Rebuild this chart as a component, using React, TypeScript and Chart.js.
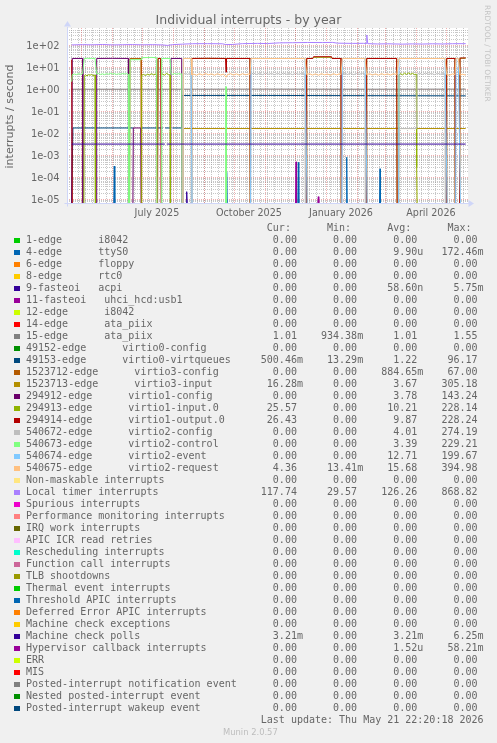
import React, { useEffect, useRef } from 'react';
import { Chart, registerables } from 'chart.js';

Chart.register(...registerables);

type Pt = [number, number | null];

const WIDTH = 497;
const HEIGHT = 743;
const CANVAS_HEIGHT = 225;

// x axis = days since graph start (last update minus 400 days)
const START_MS = Date.UTC(2025, 3, 16, 22, 20, 18);
const DAY_MS = 86400000;
const X_MIN = 0;
const X_MAX = 400;
const Y_MIN = 6.38e-6;
const Y_MAX = 518;

const yTickValues = [1e-5, 1e-4, 1e-3, 1e-2, 1e-1, 1, 10, 100];
const yTickLabels = ['1e-05', '1e-04', '1e-03', '1e-02', '1e-01', '1e+00', '1e+01', '1e+02'];
const xTickLabels = ['July 2025', 'October 2025', 'January 2026', 'April 2026'];
const xTickMonths: [number, number][] = [[2025, 6], [2025, 9], [2026, 0], [2026, 3]];
const X_LABEL_OFFSET_DAYS = 14.4;
const gridMonths: [number, number][] = [
  [2025, 4], [2025, 5], [2025, 6], [2025, 7], [2025, 8], [2025, 9], [2025, 10],
  [2025, 11], [2026, 0], [2026, 1], [2026, 2], [2026, 3], [2026, 4],
];
const firstGridMonday: [number, number, number] = [2025, 3, 21];

const TITLE = 'Individual interrupts - by year';
const Y_TITLE = 'interrupts / second';
const WATERMARK = 'RRDTOOL / TOBI OETIKER';
const FOOTER = 'Munin 2.0.57';
const LAST_UPDATE = 'Last update: Thu May 21 22:20:18 2026';

const PALETTE = ['#00CC00', '#0066B3', '#FF8000', '#FFCC00', '#330099', '#990099', '#CCFF00', '#FF0000',
  '#808080', '#008F00', '#00487D', '#B35A00', '#B38F00', '#6B006B', '#8FB300', '#B30000', '#BEBEBE',
  '#80FF80', '#80C9FF', '#FFC080', '#FFE680', '#AA80FF', '#EE00CC', '#FF8080', '#666600', '#FFBFFF',
  '#00FFCC', '#CC6699', '#999900'];

const seriesLabels = [
  '1-edge      i8042',
  '4-edge      ttyS0',
  '6-edge      floppy',
  '8-edge      rtc0',
  '9-fasteoi   acpi',
  '11-fasteoi   uhci_hcd:usb1',
  '12-edge      i8042',
  '14-edge      ata_piix',
  '15-edge      ata_piix',
  '49152-edge      virtio0-config',
  '49153-edge      virtio0-virtqueues',
  '1523712-edge      virtio3-config',
  '1523713-edge      virtio3-input',
  '294912-edge      virtio1-config',
  '294913-edge      virtio1-input.0',
  '294914-edge      virtio1-output.0',
  '540672-edge      virtio2-config',
  '540673-edge      virtio2-control',
  '540674-edge      virtio2-event',
  '540675-edge      virtio2-request',
  'Non-maskable interrupts',
  'Local timer interrupts',
  'Spurious interrupts',
  'Performance monitoring interrupts',
  'IRQ work interrupts',
  'APIC ICR read retries',
  'Rescheduling interrupts',
  'Function call interrupts',
  'TLB shootdowns',
  'Thermal event interrupts',
  'Threshold APIC interrupts',
  'Deferred Error APIC interrupts',
  'Machine check exceptions',
  'Machine check polls',
  'Hypervisor callback interrupts',
  'ERR',
  'MIS',
  'Posted-interrupt notification event',
  'Nested posted-interrupt event',
  'Posted-interrupt wakeup event',
];

const curVals = ['0.00', '0.00', '0.00', '0.00', '0.00', '0.00', '0.00', '0.00', '1.01', '0.00', '500.46m', '0.00',
  '16.28m', '0.00', '25.57', '26.43', '0.00', '0.00', '0.00', '4.36', '0.00', '117.74', '0.00', '0.00', '0.00',
  '0.00', '0.00', '0.00', '0.00', '0.00', '0.00', '0.00', '0.00', '3.21m', '0.00', '0.00', '0.00', '0.00', '0.00', '0.00'];
const minVals = ['0.00', '0.00', '0.00', '0.00', '0.00', '0.00', '0.00', '0.00', '934.38m', '0.00', '13.29m', '0.00',
  '0.00', '0.00', '0.00', '0.00', '0.00', '0.00', '0.00', '13.41m', '0.00', '29.57', '0.00', '0.00', '0.00',
  '0.00', '0.00', '0.00', '0.00', '0.00', '0.00', '0.00', '0.00', '0.00', '0.00', '0.00', '0.00', '0.00', '0.00', '0.00'];
const avgVals = ['0.00', '9.90u', '0.00', '0.00', '58.60n', '0.00', '0.00', '0.00', '1.01', '0.00', '1.22', '884.65m',
  '3.67', '3.78', '10.21', '9.87', '4.01', '3.39', '12.71', '15.68', '0.00', '126.26', '0.00', '0.00', '0.00',
  '0.00', '0.00', '0.00', '0.00', '0.00', '0.00', '0.00', '0.00', '3.21m', '1.52u', '0.00', '0.00', '0.00', '0.00', '0.00'];
const maxVals = ['0.00', '172.46m', '0.00', '0.00', '5.75m', '0.00', '0.00', '0.00', '1.55', '0.00', '96.17', '67.00',
  '305.18', '143.24', '228.14', '228.24', '274.19', '229.21', '199.67', '394.98', '0.00', '868.82', '0.00', '0.00',
  '0.00', '0.00', '0.00', '0.00', '0.00', '0.00', '0.00', '0.00', '0.00', '6.25m', '58.21m', '0.00', '0.00', '0.00',
  '0.00', '0.00'];

// ---- series values: [day, value]  (null = unknown / gap) ----
const zeroPts: Pt[] = [[4.2, 0], [398.2, 0]];

const ttyS0Pts: Pt[] = [[4.2, 0], [46.3, 0], [46.8, 3.2e-4], [47.3, 0], [158.7, 0], [159.2, 1.7e-4], [159.7, 0],
  [230.3, 0], [230.8, 4.7e-4], [231.3, 0], [278.7, 0], [279.2, 8e-4], [279.7, 0], [312, 0], [312.5, 2.4e-4],
  [313, 0], [398.2, 0]];

const acpiPts: Pt[] = [[4.2, 0], [118.7, 0], [119.2, 2.2e-5], [119.7, 0], [398.2, 0]];

const ataPiix15Pts: Pt[] = [[4.2, 1.0], [100, 1.0], [200, 1.01], [300, 1.0], [398.2, 1.01]];

const virtqueuesPts: Pt[] = [[4.2, 0], [5.4, 0.0173], [65.8, 0.0173], [66, null], [73.5, 0.0173], [95.2, 0.0173],
  [95.4, null], [97.6, 0.0173], [103.4, 0.0173], [103.6, null], [104.9, 0.0173], [114.2, 0.0173], [114.5, 0.52],
  [200, 0.52], [300, 0.51], [398.2, 0.5]];

const virtio3ConfigPts: Pt[] = [[4.2, 0], [62.1, 0], [62.5, 25], [73.5, 25], [73.9, 0], [398.2, 0]];

const virtio3InputPts: Pt[] = [[4.2, 0], [115.4, 0], [115.8, 0.0163], [398.2, 0.0163]];

const virtio1ConfigPts: Pt[] = [[4.2, 0], [4.8, 25], [15, 25], [15.4, 0], [28.8, 0], [29.2, 25], [45, 25.3],
  [60.8, 25], [61.2, 0], [65.4, 0], [65.8, 0.0173], [73.3, 0.0173], [73.7, 0], [103.1, 0], [103.5, 25],
  [114.2, 25], [114.6, 0], [398.2, 0]];

const virtio1InputPts: Pt[] = [[4.2, 0], [16.4, 0], [16.8, 4.2], [18, 4.5], [19.5, 4.0], [21, 4.6], [22.5, 4.3],
  [24, 4.7], [25.5, 4.2], [27.5, 4.4], [27.9, 0], [73.8, 0], [74.2, 4.3], [76, 4.7], [78, 4.2], [80, 4.8],
  [82, 4.4], [84, 5.1], [86, 4.5], [88, 4.9], [89.2, 4.4], [89.8, 0], [90.5, 25], [93.2, 25], [93.8, 4.5],
  [95, 4.9], [97, 4.3], [99, 5.3], [101, 4.6], [102.5, 4.4], [102.9, 0], [123.8, 0], [124.2, 25], [182.5, 25],
  [182.9, 0], [238.8, 0], [239.2, 25], [245.3, 25], [246, 28.3], [264, 28.3], [264.6, 25], [273.5, 25],
  [273.9, 0], [298.8, 0], [299.2, 25], [329.2, 25], [329.6, 0], [331.1, 0], [331.5, 4.6], [333, 5.1],
  [335, 4.5], [337, 5.4], [339, 4.7], [341, 5.5], [343, 4.8], [345, 5.3], [347, 4.6], [348.8, 4.9],
  [349.2, 2.8e-4], [349.6, 0], [378.8, 0], [379.2, 25], [387.5, 25], [387.9, 0], [392.1, 0], [392.5, 25.57],
  [398.2, 25.57]];

const virtio1OutputPts: Pt[] = [[4.2, 22], [4.8, 0], [90.1, 0], [90.5, 25], [93.2, 25], [93.6, 0], [123.8, 0],
  [124.2, 25], [140, 25.5], [158, 25], [158.5, 6], [159, 25], [182.5, 25], [182.9, 0], [238.8, 0], [239.2, 25],
  [245.3, 25], [246, 30], [264, 30], [264.6, 25], [273.5, 25], [273.9, 0], [298.8, 0], [299.2, 25], [329.2, 25],
  [329.6, 0], [378.8, 0], [379.2, 25], [387.5, 25], [387.9, 0], [392.1, 0], [392.5, 26], [398.2, 26.43]];

const virtio2ConfigPts: Pt[] = [[4.2, 0], [115.4, 0], [115.8, 4.8], [118, 5.3], [120, 4.7], [122, 5.2], [123.5, 4.9],
  [123.9, 0], [183.1, 0], [183.5, 4.8], [186, 5.4], [189, 4.7], [192, 5.3], [195, 4.6], [198, 5.4], [201, 4.8],
  [204, 5.2], [207, 4.6], [210, 5.3], [213, 4.7], [216, 5.4], [219, 4.8], [222, 5.2], [225, 4.6], [228, 5.3],
  [231, 4.8], [234, 5.2], [237.5, 4.9], [237.9, 0], [274.4, 0], [274.8, 4.9], [277, 5.4], [280, 4.7], [283, 5.3],
  [286, 4.6], [289, 5.2], [292, 4.8], [295, 5.3], [297.5, 4.9], [297.9, 0], [331.1, 0], [331.5, 0.0163],
  [349.2, 0.0163], [349.6, 4.8], [352, 5.3], [355, 4.7], [358, 5.4], [361, 4.8], [364, 5.2], [367, 4.6],
  [370, 5.3], [373, 4.8], [375, 5.2], [377.5, 4.9], [377.9, 0], [398.2, 0]];

const virtio2ControlPts: Pt[] = [[4.2, 2.2], [4.8, 4.6], [7, 4.9], [9, 4.6], [11, 5.1], [13, 4.8], [15, 5.0],
  [16.8, 25], [20, 25.5], [24, 25], [27.5, 25.3], [29.2, 4.8], [31, 5.2], [33, 4.7], [35, 5.0], [37, 4.6],
  [39, 5.1], [41, 4.8], [43, 5.3], [45, 4.9], [47, 5.1], [49, 4.7], [51, 5.0], [53, 4.8], [55, 5.2], [57, 4.9],
  [59, 5.1], [60.8, 4.8], [61.3, 0], [62.1, 0], [62.5, 22], [73.5, 22], [74.2, 27], [80, 27.5], [84, 28],
  [89.2, 27], [89.6, 0], [93.6, 0], [94.2, 25], [102.5, 25], [103.5, 5.0], [105, 4.7], [107, 5.2], [109, 4.8],
  [111, 5.1], [113, 4.9], [114.2, 5.0], [114.6, 0], [158.2, 0], [158.5, 1.3], [158.8, 0], [398.2, 0]];

const virtio2EventPts: Pt[] = [[4.2, 0], [115.4, 0], [115.8, 25], [123.5, 25], [124.6, 0], [183.1, 0], [183.5, 25],
  [237.5, 25], [239.6, 0], [274.4, 0], [274.8, 25], [297.5, 25], [299.6, 0], [331.1, 0], [331.5, 25], [377.5, 25],
  [379.6, 0], [388.1, 0], [388.5, 25], [390.8, 25], [392.9, 0], [398.2, 0]];

const virtio2RequestPts: Pt[] = [[4.2, 0], [115.4, 0], [115.8, 25], [123.5, 25], [124.2, 4.5], [126, 4.9],
  [129, 4.3], [132, 5.1], [135, 4.4], [138, 5.2], [141, 4.5], [144, 5.0], [147, 4.3], [150, 5.1], [153, 4.4],
  [156, 4.9], [158.5, 3.5], [160, 4.6], [163, 5.1], [166, 4.4], [169, 5.0], [172, 4.3], [175, 5.1], [178, 4.5],
  [181, 4.9], [182.5, 4.6], [183.5, 25], [237.5, 25], [239.2, 4.6], [242, 5.1], [245, 4.4], [248, 5.0],
  [251, 4.3], [254, 5.1], [257, 4.5], [260, 4.9], [263, 4.3], [266, 5.1], [269, 4.5], [272, 5.0], [273.5, 4.6],
  [274.8, 25], [297.5, 25], [299.2, 4.5], [302, 5.1], [305, 4.4], [308, 5.0], [311, 4.3], [314, 5.1], [317, 4.5],
  [320, 5.0], [323, 4.4], [326, 5.1], [329.2, 4.6], [331.5, 25], [377.5, 25], [379.2, 4.6], [382, 4.3],
  [385, 5.0], [387.5, 4.5], [388.5, 25], [390.8, 25], [392.5, 4.4], [395, 4.8], [398.2, 4.36]];

const localTimerPts: Pt[] = [[4.2, 103], [15, 106], [25, 104], [35, 108], [45, 103], [55, 105], [65, 107], [75, 104],
  [85, 106], [95, 103], [100, 98], [105, 106], [115, 112], [125, 117], [140, 118], [155, 116], [158, 107],
  [165, 108], [175, 118], [190, 121], [200, 119], [212, 128], [225, 130], [240, 133], [255, 132], [265, 134],
  [270, 124], [285, 121], [296, 122], [298.5, 120], [299.3, 292], [300.2, 118], [310, 114], [320, 116],
  [335, 112], [345, 115], [355, 113], [365, 116], [375, 114], [385, 117], [398.2, 117.7]];

const mcpPts: Pt[] = [[4.2, 0.00321], [97.4, 0.00321], [97.6, null], [99.2, 0.00321], [398.2, 0.00321]];

const hypervisorPts: Pt[] = [[4.2, 0], [228, 0], [228.5, 5e-4], [229, 0], [250.3, 0], [250.8, 1.3e-5], [251.3, 0],
  [398.2, 0]];

const seriesData: Pt[][] = [
  zeroPts, ttyS0Pts, zeroPts, zeroPts, acpiPts, zeroPts, zeroPts, zeroPts, ataPiix15Pts, zeroPts,
  virtqueuesPts, virtio3ConfigPts, virtio3InputPts, virtio1ConfigPts, virtio1InputPts, virtio1OutputPts,
  virtio2ConfigPts, virtio2ControlPts, virtio2EventPts, virtio2RequestPts,
  zeroPts, localTimerPts, zeroPts, zeroPts, zeroPts, zeroPts, zeroPts, zeroPts, zeroPts, zeroPts, zeroPts,
  zeroPts, zeroPts, mcpPts, hypervisorPts, zeroPts, zeroPts, zeroPts, zeroPts, zeroPts,
];

const dayOf = (y: number, m: number, d: number) => (Date.UTC(y, m, d) - START_MS) / DAY_MS;

const MINOR_GRID = 'rgba(143,143,143,0.5)';
const MAJOR_GRID = 'rgba(222,79,79,0.45)';
const AXIS = '#CFD6F8';
const FONT_COLOR = '#666666';

const muninPlugin = {
  id: 'muninDecor',
  beforeDatasetsDraw(chart: any) {
    const { ctx, chartArea: a, scales } = chart;
    const xs = scales.x;
    const ys = scales.y;
    ctx.save();
    ctx.fillStyle = '#ffffff';
    ctx.fillRect(Math.floor(a.left), Math.floor(a.top) - 1, Math.ceil(a.right - a.left) + 1, Math.ceil(a.bottom - a.top) + 1);
    ctx.lineWidth = 1;
    ctx.setLineDash([1, 1]);
    const top = Math.floor(a.top) - 1;
    const bottom = Math.floor(a.bottom);
    const hline = (py: number) => {
      ctx.beginPath();
      ctx.moveTo(Math.floor(a.left), py);
      ctx.lineTo(Math.ceil(a.right), py);
      ctx.stroke();
    };
    const vline = (px: number) => {
      ctx.beginPath();
      ctx.moveTo(px, top);
      ctx.lineTo(px, bottom);
      ctx.stroke();
    };
    // minor grid
    ctx.strokeStyle = MINOR_GRID;
    for (let e = -6; e <= 2; e++) {
      for (let k = 2; k <= 9; k++) {
        const v = k * Math.pow(10, e);
        if (v <= Y_MIN || v >= Y_MAX) continue;
        hline(Math.round(ys.getPixelForValue(v)) + 0.5);
      }
    }
    const firstMon = dayOf(firstGridMonday[0], firstGridMonday[1], firstGridMonday[2]);
    for (let d = firstMon; d < X_MAX; d += 7) {
      vline(Math.floor(xs.getPixelForValue(d)) + 0.5);
    }
    // major grid
    ctx.strokeStyle = MAJOR_GRID;
    yTickValues.forEach((v) => hline(Math.round(ys.getPixelForValue(v)) + 0.5));
    gridMonths.forEach(([yy, mm]) => {
      const d = dayOf(yy, mm, 1);
      if (d > X_MIN && d < X_MAX) vline(Math.floor(xs.getPixelForValue(d)) + 0.5);
    });
    ctx.restore();
  },
  afterDatasetsDraw(chart: any) {
    const { ctx, chartArea: a, scales } = chart;
    const xs = scales.x;
    const ys = scales.y;
    ctx.save();
    // axes
    ctx.strokeStyle = AXIS;
    ctx.fillStyle = AXIS;
    ctx.lineWidth = 1;
    const axY = Math.floor(a.bottom) + 0.5;
    const axX = Math.floor(a.left) + 0.5;
    ctx.beginPath();
    ctx.moveTo(axX - 3, axY);
    ctx.lineTo(Math.ceil(a.right) + 1, axY);
    ctx.moveTo(axX, axY + 3);
    ctx.lineTo(axX, Math.floor(a.top) - 2);
    ctx.stroke();
    ctx.beginPath();
    ctx.moveTo(Math.ceil(a.right) + 0.5, axY - 3.5);
    ctx.lineTo(Math.ceil(a.right) + 6, axY);
    ctx.lineTo(Math.ceil(a.right) + 0.5, axY + 3.5);
    ctx.closePath();
    ctx.fill();
    ctx.beginPath();
    ctx.moveTo(axX - 3.5, Math.floor(a.top) - 2.5);
    ctx.lineTo(axX, Math.floor(a.top) - 8);
    ctx.lineTo(axX + 3.5, Math.floor(a.top) - 2.5);
    ctx.closePath();
    ctx.fill();

    ctx.fillStyle = FONT_COLOR;
    // y tick labels
    ctx.font = '9.9px "DejaVu Sans"';
    ctx.textAlign = 'right';
    ctx.textBaseline = 'alphabetic';
    yTickValues.forEach((v, i) => {
      ctx.fillText(yTickLabels[i], 59.5, ys.getPixelForValue(v) + 3.6);
    });
    // x tick labels
    ctx.font = '9.6px "DejaVu Sans"';
    ctx.textAlign = 'center';
    xTickMonths.forEach(([yy, mm], i) => {
      const d = dayOf(yy, mm, 1) + X_LABEL_OFFSET_DAYS;
      ctx.fillText(xTickLabels[i], xs.getPixelForValue(d), 215.5);
    });
    // title
    ctx.font = '12.5px "DejaVu Sans"';
    ctx.fillText(TITLE, WIDTH / 2, 24);
    // y title
    ctx.save();
    ctx.translate(13, (a.top + a.bottom) / 2);
    ctx.rotate(-Math.PI / 2);
    ctx.font = '11px "DejaVu Sans"';
    ctx.textAlign = 'center';
    ctx.fillText(Y_TITLE, 0, 0);
    ctx.restore();
    // watermark
    ctx.save();
    ctx.translate(484.8, 5);
    ctx.rotate(Math.PI / 2);
    ctx.font = '7.5px "DejaVu Sans"';
    ctx.textAlign = 'left';
    ctx.fillStyle = '#c4c4c4';
    ctx.fillText(WATERMARK, 0, 0);
    ctx.restore();
    ctx.restore();
  },
};

const fmtField = (s: string) => (/[a-z]$/i.test(s) ? s : s + ' ').padStart(10);
const headerText = ' '.repeat(40) + 'Cur:' + ' '.repeat(6) + 'Min:' + ' '.repeat(6) + 'Avg:' + ' '.repeat(6) + 'Max:';

const ROW0_BASELINE = 243;
const ROW_STEP = 12;
const BASELINE_IN_LINE = 9.5;

const textStyle: React.CSSProperties = {
  position: 'absolute',
  left: 26,
  margin: 0,
  fontFamily: '"DejaVu Sans Mono", monospace',
  fontSize: '10px',
  lineHeight: '12px',
  height: 12,
  whiteSpace: 'pre',
  color: FONT_COLOR,
};

export default function App() {
  const canvasRef = useRef<HTMLCanvasElement>(null);

  useEffect(() => {
    const canvas = canvasRef.current;
    if (!canvas) return;
    const datasets = seriesData.map((pts, i) => ({
      label: seriesLabels[i],
      data: pts.map(([x, y]) => ({ x, y: y === null ? null : Math.max(y, Y_MIN) })),
      borderColor: PALETTE[i % PALETTE.length],
      backgroundColor: PALETTE[i % PALETTE.length],
      borderWidth: 1,
      pointRadius: 0,
      pointHoverRadius: 0,
      fill: false,
      tension: 0,
      spanGaps: false,
      order: -i,
    }));
    const chart = new Chart(canvas, {
      type: 'line',
      data: { datasets },
      options: {
        animation: false,
        responsive: false,
        devicePixelRatio: 1,
        events: [],
        layout: { padding: { left: 67.5, right: WIDTH - 467.5, top: 29.5, bottom: CANVAS_HEIGHT - 203.5 } },
        plugins: { legend: { display: false }, tooltip: { enabled: false }, title: { display: false } },
        scales: {
          x: { type: 'linear', min: X_MIN, max: X_MAX, bounds: 'data', display: false },
          y: { type: 'logarithmic', min: Y_MIN, max: Y_MAX, bounds: 'data', display: false },
        },
      },
      plugins: [muninPlugin],
    } as any);
    return () => chart.destroy();
  }, []);

  return (
    <div style={{ position: 'absolute', left: 0, top: 0, width: WIDTH, height: HEIGHT, background: '#f0f0f0', overflow: 'hidden' }}>
      <canvas
        ref={canvasRef}
        width={WIDTH}
        height={CANVAS_HEIGHT}
        style={{ position: 'absolute', left: 0, top: 0, width: WIDTH, height: CANVAS_HEIGHT }}
      />
      <div style={{ ...textStyle, top: ROW0_BASELINE - ROW_STEP - BASELINE_IN_LINE }}>{headerText}</div>
      {seriesLabels.map((lab, i) => {
        const base = ROW0_BASELINE + ROW_STEP * i;
        const text = lab.padEnd(36) + fmtField(curVals[i]) + fmtField(minVals[i]) + fmtField(avgVals[i]) + fmtField(maxVals[i]);
        return (
          <React.Fragment key={i}>
            <div style={{ position: 'absolute', left: 14, top: base - 5, width: 6, height: 5, background: PALETTE[i % PALETTE.length] }} />
            <div style={{ ...textStyle, top: base - BASELINE_IN_LINE }}>{text}</div>
          </React.Fragment>
        );
      })}
      <div style={{ ...textStyle, top: ROW0_BASELINE + ROW_STEP * seriesLabels.length - BASELINE_IN_LINE }}>
        {' '.repeat(39) + LAST_UPDATE}
      </div>
      <div style={{ position: 'absolute', left: 223, top: 727, fontFamily: '"DejaVu Sans", sans-serif', fontSize: '8.4px', lineHeight: '10px', color: '#bdbdbd', whiteSpace: 'pre' }}>
        {FOOTER}
      </div>
    </div>
  );
}
